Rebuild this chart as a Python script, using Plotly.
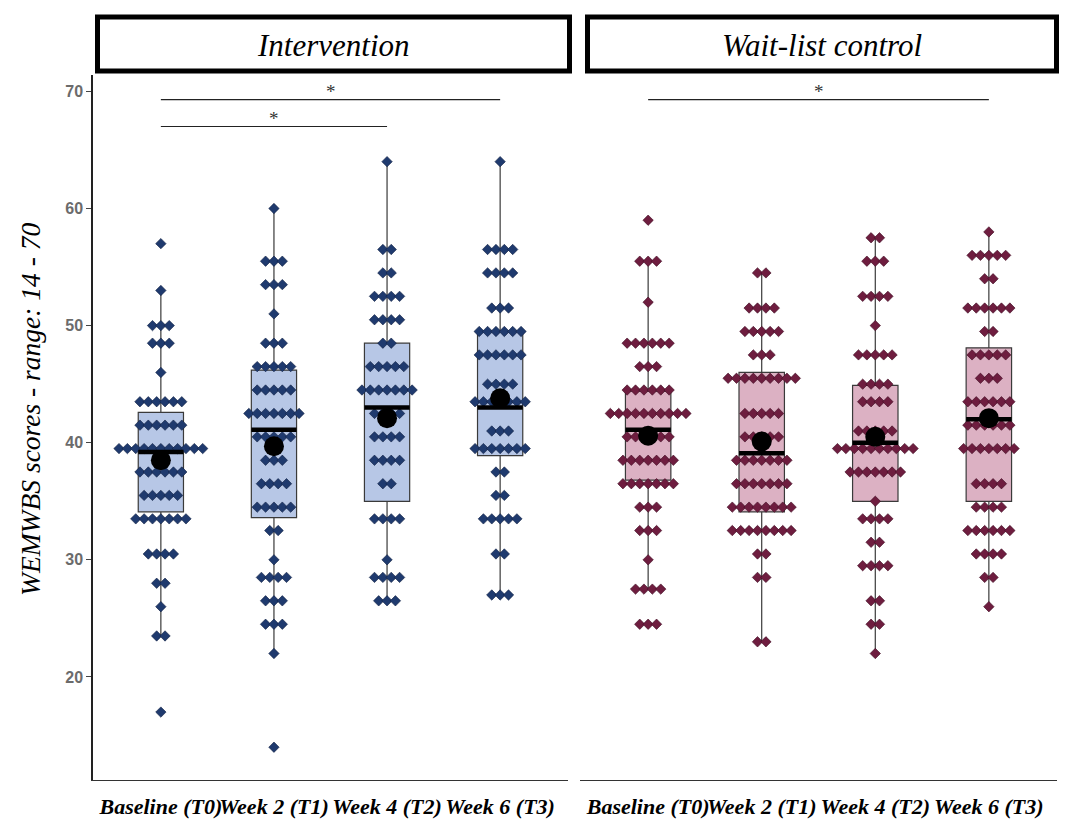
import plotly.graph_objects as go

W, H = 1067, 821

categories = ["Baseline (T0)", "Week 2 (T1)", "Week 4 (T2)", "Week 6 (T3)"]
panel_titles = ["Intervention", "Wait-list control"]
y_title = "WEMWBS scores - range: 14 - 70"

# ---- dot rows (value, number of dots) ----
int_t0_vals = [57, 53, 50, 48.5, 46, 43.5, 41.5, 39.5, 37.5, 35.5, 33.5, 30.5, 28, 26, 23.5, 17]
int_t0_counts = [1, 1, 3, 3, 1, 6, 6, 11, 6, 5, 7, 4, 2, 1, 2, 1]
int_t1_vals = [60, 55.5, 53.5, 51, 48.5, 46.5, 44.5, 42.5, 40.5, 38.5, 36.5, 34.5, 32.5, 30, 28.5, 26.5, 24.5, 22, 14]
int_t1_counts = [1, 3, 3, 1, 3, 5, 5, 7, 5, 3, 4, 5, 2, 1, 4, 3, 3, 1, 1]
int_t2_vals = [64, 56.5, 54.5, 52.5, 50.5, 48.5, 46.5, 44.5, 42.5, 40.5, 38.5, 36.5, 33.5, 30, 28.5, 26.5]
int_t2_counts = [1, 2, 2, 4, 4, 2, 5, 7, 4, 4, 4, 2, 4, 1, 4, 3]
int_t3_vals = [64, 56.5, 54.5, 51.5, 49.5, 47.5, 45, 43.5, 41, 39.5, 37.5, 35.5, 33.5, 30.5, 27]
int_t3_counts = [1, 4, 4, 3, 6, 6, 4, 7, 3, 7, 2, 2, 5, 2, 3]

wl_t0_vals = [59, 55.5, 52, 48.5, 46.5, 44.5, 42.5, 40.5, 38.5, 36.5, 34.5, 32.5, 30, 27.5, 24.5]
wl_t0_counts = [1, 3, 1, 6, 3, 6, 10, 6, 7, 7, 3, 3, 1, 4, 3]
wl_t1_vals = [54.5, 51.5, 49.5, 47.5, 45.5, 42.5, 40.5, 38.5, 36.5, 34.5, 32.5, 30.5, 28.5, 23]
wl_t1_counts = [2, 4, 5, 3, 9, 5, 5, 7, 7, 8, 8, 2, 2, 2]
wl_t2_vals = [57.5, 55.5, 52.5, 50, 47.5, 45, 43.5, 41, 39.5, 37.5, 35, 33.5, 31.5, 29.5, 26.5, 24.5, 22]
wl_t2_counts = [2, 3, 4, 1, 5, 4, 4, 5, 10, 7, 1, 4, 2, 4, 2, 2, 1]
wl_t3_vals = [58, 56, 54, 51.5, 49.5, 47.5, 45.5, 43.5, 41.5, 39.5, 36.5, 34.5, 32.5, 30.5, 28.5, 26]
wl_t3_counts = [1, 5, 2, 6, 2, 5, 3, 6, 6, 7, 4, 4, 6, 4, 2, 1]

# ---- box statistics ----
int_q1 = [34.1, 33.6, 35.0, 38.9]
int_median = [39.2, 41.1, 43.0, 43.0]
int_q3 = [42.6, 46.2, 48.5, 49.5]
int_lower = [23.5, 22, 26.5, 27]
int_upper = [53, 60, 64, 64]
int_mean = [38.5, 39.7, 42.1, 43.8]

wl_q1 = [36.8, 34.1, 35.0, 35.0]
wl_median = [41.1, 39.1, 40.0, 42.0]
wl_q3 = [44.4, 46.0, 44.9, 48.1]
wl_lower = [27.5, 23, 22, 26]
wl_upper = [55.5, 54.5, 57.5, 58]
wl_mean = [40.6, 40.1, 40.5, 42.1]

# ---- significance brackets ----
sig_panel = [1, 1, 2]
sig_from = [1, 1, 1]
sig_to = [3, 4, 4]
sig_y = [67.0, 69.3, 69.3]
sig_label = ["*", "*", "*"]

positions = [1, 2, 3, 4]

int_rows = [(int_t0_vals, int_t0_counts), (int_t1_vals, int_t1_counts),
            (int_t2_vals, int_t2_counts), (int_t3_vals, int_t3_counts)]
wl_rows = [(wl_t0_vals, wl_t0_counts), (wl_t1_vals, wl_t1_counts),
           (wl_t2_vals, wl_t2_counts), (wl_t3_vals, wl_t3_counts)]

STEP = 0.074
BOXW = 0.4


def expand(rows):
    xs, ys = [], []
    for xc, (vals, counts) in zip(positions, rows):
        for v, n in zip(vals, counts):
            for i in range(n):
                xs.append(xc + (i - (n - 1) / 2) * STEP)
                ys.append(v)
    return xs, ys


fig = go.Figure()

panels = [
    dict(xa="x", ya="y", rows=int_rows, q1=int_q1, med=int_median, q3=int_q3,
         lo=int_lower, up=int_upper, mean=int_mean,
         fill="#b7c7e6", dot="#1f3a6e", dotline="#0f1f40"),
    dict(xa="x2", ya="y2", rows=wl_rows, q1=wl_q1, med=wl_median, q3=wl_q3,
         lo=wl_lower, up=wl_upper, mean=wl_mean,
         fill="#dcb1c3", dot="#6e1d3f", dotline="#3c0a20"),
]

for p in panels:
    fig.add_trace(go.Box(
        x=positions, q1=p["q1"], median=p["med"], q3=p["q3"],
        lowerfence=p["lo"], upperfence=p["up"],
        width=BOXW, whiskerwidth=0, boxpoints=False,
        fillcolor=p["fill"], line=dict(color="#3a3a3a", width=1.2),
        xaxis=p["xa"], yaxis=p["ya"], showlegend=False, hoverinfo="skip"))
    xs, ys = expand(p["rows"])
    fig.add_trace(go.Scatter(
        x=xs, y=ys, mode="markers", xaxis=p["xa"], yaxis=p["ya"],
        marker=dict(symbol="diamond", size=8, color=p["dot"],
                    line=dict(color=p["dotline"], width=0.6)),
        showlegend=False, hoverinfo="skip"))
    mx, my = [], []
    for xc, m in zip(positions, p["med"]):
        mx += [xc - BOXW / 2, xc + BOXW / 2, None]
        my += [m, m, None]
    fig.add_trace(go.Scatter(
        x=mx, y=my, mode="lines", line=dict(color="black", width=4.5),
        xaxis=p["xa"], yaxis=p["ya"], showlegend=False, hoverinfo="skip"))
    fig.add_trace(go.Scatter(
        x=positions, y=p["mean"], mode="markers",
        marker=dict(symbol="circle", size=20, color="black"),
        xaxis=p["xa"], yaxis=p["ya"], showlegend=False, hoverinfo="skip"))

for pn, a, b, yv, lab in zip(sig_panel, sig_from, sig_to, sig_y, sig_label):
    xa = "x" if pn == 1 else "x2"
    ya = "y" if pn == 1 else "y2"
    fig.add_trace(go.Scatter(
        x=[a, b], y=[yv, yv], mode="lines", line=dict(color="#222", width=1.1),
        xaxis=xa, yaxis=ya, showlegend=False, hoverinfo="skip"))
    fig.add_annotation(x=(a + b) / 2, y=yv, xref=xa, yref=ya, text=lab,
                       showarrow=False, yanchor="bottom", yshift=-4,
                       font=dict(family="Liberation Serif", size=19, color="#333"))


def px_x(v):
    return v / W


def px_y(v):
    return 1 - v / H


xr = [0.4, 4.6]
yr = [11.2, 71.4]
tickfont_x = dict(family="Liberation Serif", size=22, color="black",
                  weight="bold", style="italic")

fig.update_layout(
    width=W, height=H, margin=dict(l=0, r=0, t=0, b=0),
    paper_bgcolor="white", plot_bgcolor="white",
    xaxis=dict(domain=[px_x(93), px_x(568)], range=xr, tickvals=positions,
               ticktext=categories, tickfont=tickfont_x, showline=True,
               linecolor="#333", linewidth=1.3, ticks="", showgrid=False,
               zeroline=False, ticklabelstandoff=6, automargin=False, tickangle=0),
    xaxis2=dict(domain=[px_x(580), px_x(1057)], range=xr, tickvals=positions,
                ticktext=categories, tickfont=tickfont_x, showline=True,
                linecolor="#333", linewidth=1.3, ticks="", showgrid=False,
                zeroline=False, ticklabelstandoff=6, automargin=False, tickangle=0),
    yaxis=dict(domain=[px_y(780), px_y(75)], range=yr,
               tickvals=[20, 30, 40, 50, 60, 70], showline=True,
               linecolor="#222", linewidth=1.5, ticks="outside", ticklen=5,
               tickcolor="#444", showgrid=False, zeroline=False,
               tickfont=dict(family="Liberation Sans", size=16, color="#6b6b6b",
                             weight="bold"),
               automargin=False, anchor="x"),
    yaxis2=dict(domain=[px_y(780), px_y(75)], range=yr, matches="y",
                showticklabels=False, showline=False, ticks="",
                showgrid=False, zeroline=False, anchor="x2"),
)

strips = [(97.5, 569.5), (587.5, 1056.5)]
for (x0, x1), title in zip(strips, panel_titles):
    fig.add_shape(type="rect", xref="paper", yref="paper",
                  x0=px_x(x0), x1=px_x(x1), y0=px_y(71), y1=px_y(17),
                  line=dict(color="black", width=5), fillcolor="white", layer="above")
    fig.add_annotation(x=px_x((x0 + x1) / 2), y=px_y(45), xref="paper", yref="paper",
                       text=title, showarrow=False, xanchor="center", yanchor="middle",
                       font=dict(family="Liberation Serif", size=31, color="black",
                                 style="italic"))

fig.add_annotation(x=px_x(30), y=px_y(410), xref="paper", yref="paper",
                   text=y_title, textangle=-90, showarrow=False,
                   xanchor="center", yanchor="middle",
                   font=dict(family="Liberation Serif", size=27.5, color="black",
                             style="italic"))

fig.write_html(
    "out.html",
    config={"displayModeBar": False},
    post_script="document.body.style.margin='0';document.body.style.padding='0';"
                "document.documentElement.style.overflow='hidden';",
)
